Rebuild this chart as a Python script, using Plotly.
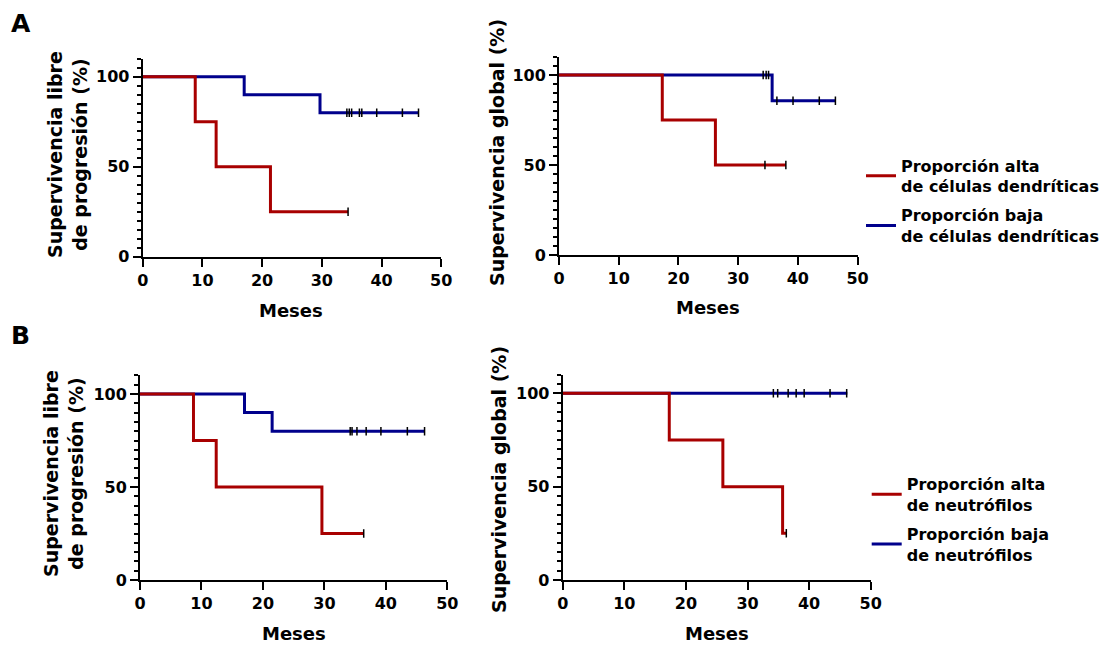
import numpy as np
import plotly.graph_objects as go

# ---------------- DATA ----------------
# Panel A – dendritic cells
A_pfs_high_t = [0, 8.8, 12.3, 21.4, 34.4]
A_pfs_high_s = [100, 75, 50, 25, 25]
A_pfs_high_cens = [34.4]
A_pfs_low_t = [0, 17.0, 29.7, 46.2]
A_pfs_low_s = [100, 90, 80, 80]
A_pfs_low_cens = [34.2, 34.6, 35.0, 36.3, 36.7, 39.2, 43.5, 46.2]

A_os_high_t = [0, 17.3, 26.2, 38.0]
A_os_high_s = [100, 75, 50, 50]
A_os_high_cens = [34.5, 38.0]
A_os_low_t = [0, 35.7, 46.3]
A_os_low_s = [100, 85.7, 85.7]
A_os_low_cens = [34.2, 34.7, 35.1, 36.5, 39.2, 43.6, 46.3]

# Panel B – neutrophils
B_pfs_high_t = [0, 8.7, 12.4, 29.6, 36.4]
B_pfs_high_s = [100, 75, 50, 25, 25]
B_pfs_high_cens = [36.4]
B_pfs_low_t = [0, 17.0, 21.5, 46.3]
B_pfs_low_s = [100, 90, 80, 80]
B_pfs_low_cens = [34.2, 34.5, 35.3, 36.8, 39.2, 43.5, 46.3]

B_os_high_t = [0, 17.3, 26.0, 35.7, 36.3]
B_os_high_s = [100, 75, 50, 25, 25]
B_os_high_cens = [36.3]
B_os_low_t = [0, 46.2]
B_os_low_s = [100, 100]
B_os_low_cens = [34.2, 34.9, 36.6, 37.9, 39.2, 43.4, 46.1]

x_ticks = [0, 10, 20, 30, 40, 50]
y_ticks = [0, 50, 100]

labels_A = ["Proporción alta<br>de células dendríticas", "Proporción baja<br>de células dendríticas"]
labels_B = ["Proporción alta<br>de neutrófilos", "Proporción baja<br>de neutrófilos"]
ylab_pfs = "Supervivencia libre<br>de progresión (%)"
ylab_os = "Supervivencia global (%)"
xlab = "Meses"

RED = "#A80000"
BLUE = "#00008C"
FONT = "DejaVu Sans"
W, H = 1107, 646


def step_value(t, s, c):
    t = np.asarray(t, float)
    s = np.asarray(s, float)
    c = np.asarray(c, float)
    idx = np.searchsorted(t, c, side="right") - 1
    return s[np.clip(idx, 0, len(s) - 1)]


fig = go.Figure()

panels = [
    ("", "legend", "A", [(A_pfs_low_t, A_pfs_low_s, A_pfs_low_cens, BLUE, labels_A[1], 2),
                         (A_pfs_high_t, A_pfs_high_s, A_pfs_high_cens, RED, labels_A[0], 1)], True),
    ("2", "legend", "A", [(A_os_low_t, A_os_low_s, A_os_low_cens, BLUE, labels_A[1], 2),
                          (A_os_high_t, A_os_high_s, A_os_high_cens, RED, labels_A[0], 1)], False),
    ("3", "legend2", "B", [(B_pfs_low_t, B_pfs_low_s, B_pfs_low_cens, BLUE, labels_B[1], 2),
                           (B_pfs_high_t, B_pfs_high_s, B_pfs_high_cens, RED, labels_B[0], 1)], True),
    ("4", "legend2", "B", [(B_os_low_t, B_os_low_s, B_os_low_cens, BLUE, labels_B[1], 2),
                           (B_os_high_t, B_os_high_s, B_os_high_cens, RED, labels_B[0], 1)], False),
]

for suf, leg, gp, series, show in panels:
    for t, s, cens, col, lab, rank in series:
        grp = gp + str(rank)
        fig.add_trace(go.Scatter(
            x=t, y=s, mode="lines", line=dict(color=col, width=3, shape="hv"),
            name=lab, legendgroup=grp, legend=leg, legendrank=rank, showlegend=show,
            xaxis="x" + suf, yaxis="y" + suf, hoverinfo="x+y"))
        fig.add_trace(go.Scatter(
            x=cens, y=step_value(t, s, cens), mode="markers",
            marker=dict(symbol="line-ns", size=6, line=dict(color="black", width=1.5)),
            name=lab, legendgroup=grp, legend=leg, showlegend=False,
            xaxis="x" + suf, yaxis="y" + suf, hoverinfo="x+y"))


def px_x(a, b):
    return [a / W, b / W]


def px_y(bottom, top):
    return [1 - bottom / H, 1 - top / H]


domains = {
    "": (px_x(142.7, 441.2), px_y(256.7, 58.7)),
    "2": (px_x(559.0, 857.5), px_y(255.0, 57.0)),
    "3": (px_x(140.0, 447.3), px_y(580.0, 375.4)),
    "4": (px_x(562.7, 870.7), px_y(580.0, 374.6)),
}

tickfont = dict(family=FONT, size=16, color="black", weight="bold")
layout = dict(
    width=W, height=H, margin=dict(l=0, r=0, t=0, b=0, autoexpand=False),
    paper_bgcolor="white", plot_bgcolor="white", showlegend=True,
    font=dict(family=FONT, color="black"),
)
for suf, (xd, yd) in domains.items():
    layout["xaxis" + suf] = dict(
        domain=xd, anchor="y" + suf, range=[0, 50], tickvals=x_ticks,
        ticks="outside", ticklen=8, tickwidth=2, tickcolor="black",
        showline=True, linewidth=2, linecolor="black", showgrid=False, zeroline=False,
        tickfont=tickfont, fixedrange=True, automargin=False)
    layout["yaxis" + suf] = dict(
        domain=yd, anchor="x" + suf, range=[0, 110], tickvals=y_ticks,
        ticks="outside", ticklen=8, tickwidth=2, tickcolor="black",
        showline=True, linewidth=2, linecolor="black", showgrid=False, zeroline=False,
        tickfont=tickfont, fixedrange=True, automargin=False,
        minor=dict(dtick=5, tick0=0, ticks="outside", ticklen=4, tickwidth=1.5,
                   tickcolor="black", showgrid=False))

legfont = dict(family=FONT, size=16, color="black", weight="bold")
layout["legend"] = dict(x=861 / W, y=1 - 148.5 / H, xanchor="left", yanchor="top",
                        font=legfont, bgcolor="rgba(0,0,0,0)", tracegroupgap=5,
                        traceorder="grouped", itemwidth=30)
layout["legend2"] = dict(x=866.7 / W, y=1 - 467 / H, xanchor="left", yanchor="top",
                         font=legfont, bgcolor="rgba(0,0,0,0)", tracegroupgap=5,
                         traceorder="grouped", itemwidth=30)

ann = []


def add_text(text, x, y, size, angle=0):
    ann.append(dict(text=text, x=x / W, y=1 - y / H, xref="paper", yref="paper",
                    xanchor="center", yanchor="middle", showarrow=False, textangle=angle,
                    font=dict(family=FONT, size=size, color="black", weight="bold")))


add_text("A", 21, 24, 25)
add_text("B", 20.5, 335, 25)
add_text(ylab_pfs, 67, 155, 19, -90)
add_text(ylab_os, 497, 153, 19, -90)
add_text(ylab_pfs, 63, 474, 19, -90)
add_text(ylab_os, 499, 480, 19, -90)
add_text(xlab, 291, 310, 18)
add_text(xlab, 708, 308, 18)
add_text(xlab, 293.5, 633, 18)
add_text(xlab, 716.5, 633, 18)
layout["annotations"] = ann

fig.update_layout(**layout)
fig.write_html("out.html", config={"displayModeBar": False},
               post_script="document.body.style.margin='0px';")
